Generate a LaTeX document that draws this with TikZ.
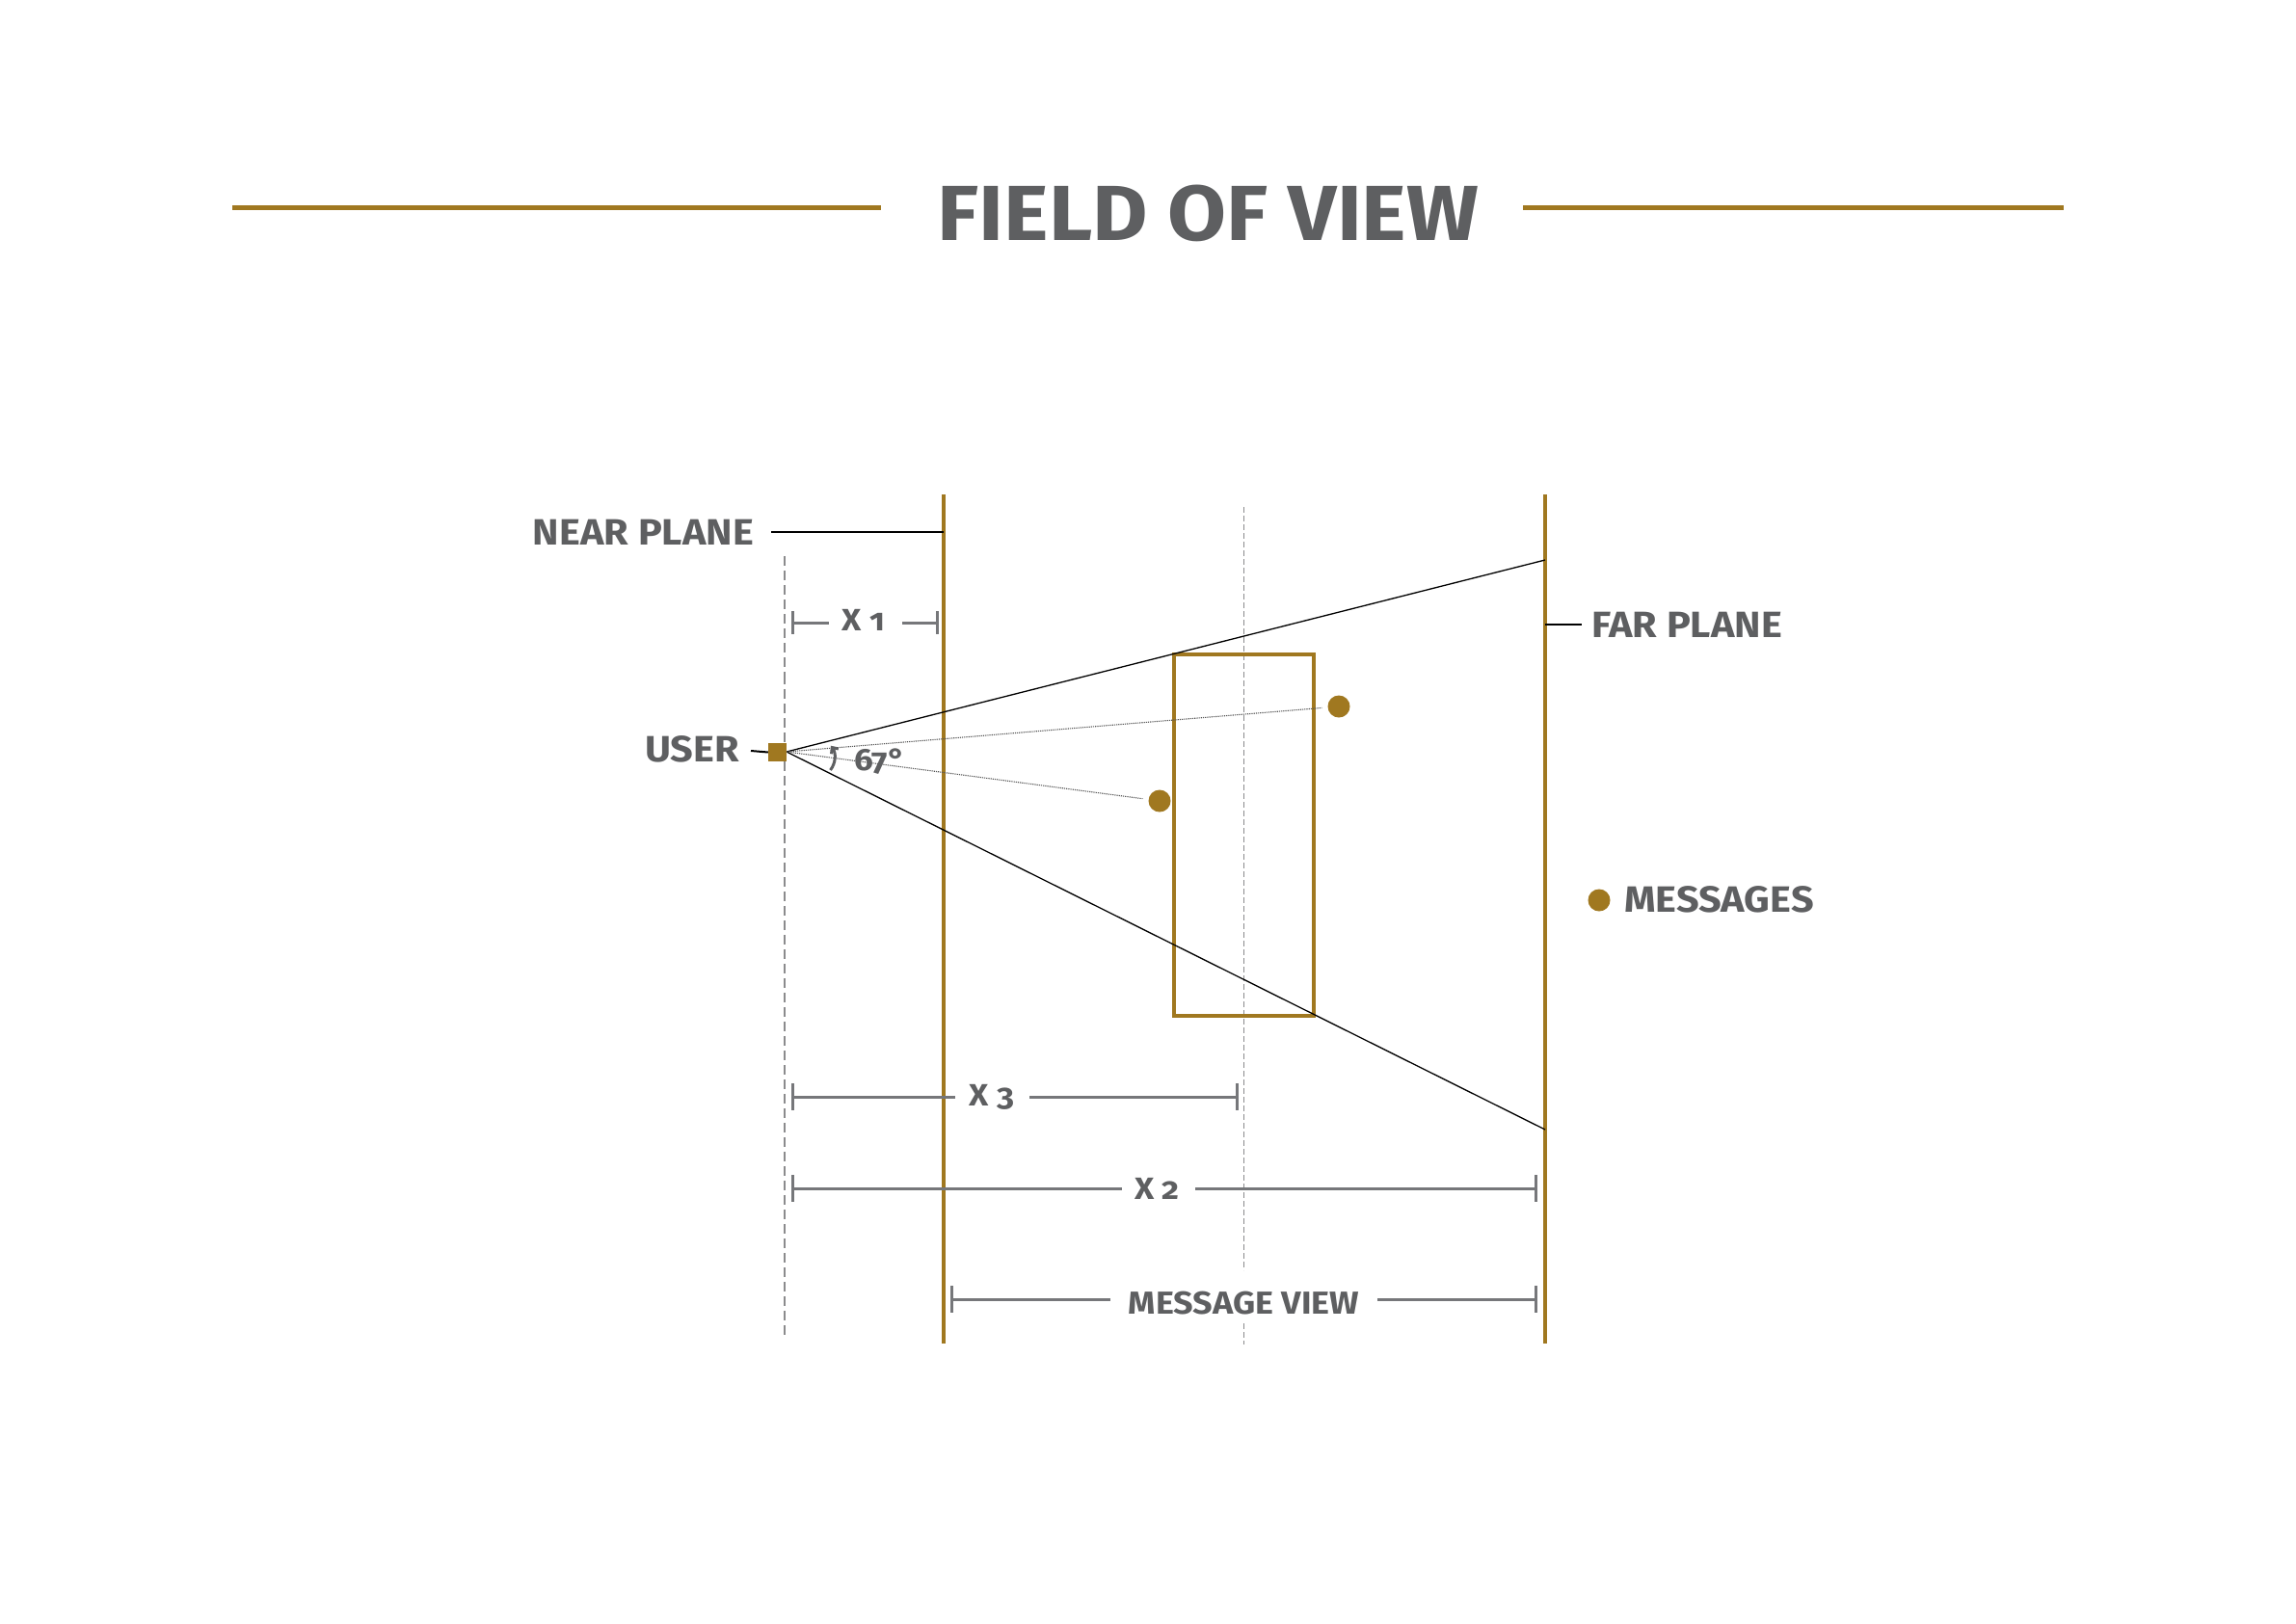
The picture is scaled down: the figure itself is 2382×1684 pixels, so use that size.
\documentclass[tikz,border=0pt]{standalone}
\usepackage{fontspec}
\setmainfont{Fira Sans}[Numbers=OldStyle, FakeStretch=1.09]
\usetikzlibrary{arrows.meta,calc}
\definecolor{gold}{HTML}{A07820}
\definecolor{txt}{HTML}{5E5F61}
\definecolor{dimc}{HTML}{76777A}
\definecolor{dashc}{HTML}{8B8B8D}
\definecolor{sightc}{HTML}{555555}
\tikzset{
  lbl/.style={text=txt, font=\fontsize{38}{40}\selectfont\bfseries, inner sep=0pt},
  dimlbl/.style={text=txt, font=\fontsize{32}{34}\selectfont\bfseries, inner sep=0pt},
  plane/.style={draw=gold, line width=4pt},
  dimline/.style={draw=dimc, line width=3pt},
  leader/.style={draw=black, line width=2pt},
  ray/.style={draw=black, line width=1.3pt},
  sight/.style={draw=sightc, line width=1.1pt, dash pattern=on 1.2pt off 1pt},
  pt/.style={circle, fill=gold, inner sep=0pt, minimum size=23pt},
}
\begin{document}
\begin{tikzpicture}[x=1pt,y=-1pt]
\useasboundingbox (0,0) rectangle (2382,1684);
% title
\node[anchor=base, text=txt, font=\fontsize{81}{84}\selectfont\bfseries, inner sep=0pt] (title) at (1253.5,249) {FIELD OF VIEW};
\coordinate (tl1) at (241,215); \coordinate (tl2) at (914,215);
\coordinate (tr1) at (1580,215); \coordinate (tr2) at (2141,215);
\draw[gold, line width=5pt] (tl1) -- (tl2);
\draw[gold, line width=5pt] (tr1) -- (tr2);
% planes
\coordinate (nearT) at (979,513); \coordinate (nearB) at (979,1394);
\coordinate (farT) at (1603,513); \coordinate (farB) at (1603,1394);
\draw[plane] (nearT) -- (nearB);
\draw[plane] (farT) -- (farB);
% user sight line (dashed)
\coordinate (uT) at (814,577); \coordinate (uM1) at (814,700); \coordinate (uM2) at (814,1000); \coordinate (uB) at (814,1389);
\draw[dashc, line width=1.6pt, dash pattern=on 10pt off 5pt] (uT) -- (uM1);
\draw[dashc, line width=2.6pt, dash pattern=on 10pt off 5pt] (uM1) -- (uM2);
\draw[dashc, line width=1.6pt, dash pattern=on 10pt off 5pt] (uM2) -- (uB);
% message centre line
\coordinate (mT) at (1290,526); \coordinate (mM) at (1290,1318);
\coordinate (mM2) at (1290,1373); \coordinate (mB) at (1290,1395);
\draw[dashc, line width=1pt, dash pattern=on 6pt off 3pt] (mT) -- (mM);
\draw[dashc, line width=1pt, dash pattern=on 6pt off 3pt] (mM2) -- (mB);
% message view box
\node[draw=gold, line width=4pt, minimum width=145pt, minimum height=375pt, inner sep=0pt] (box) at (1290.5,866.5) {};
% frustum
\coordinate (apex) at (816,780);
\coordinate (fu) at (1603,581); \coordinate (fl) at (1603,1172);
\draw[ray] (apex) -- (fu);
\draw[ray] (apex) -- (fl);
% messages
\node[pt] (m1) at (1389,733) {};
\node[pt] (m2) at (1203,831) {};
\draw[sight, shorten >=6pt] (apex) -- (m1);
\draw[sight, shorten >=6pt] (apex) -- (m2);
% user
\node[fill=gold, minimum size=19pt, inner sep=0pt] (user) at (806.5,780.5) {};
\node[lbl, anchor=base east] (userl) at (767,790) {USER};
\coordinate (ul1) at (779,779);
\draw[leader] (ul1) -- (user.west);
% angle
\coordinate (arcS) at (861.5,799);
\draw[txt, line width=3pt, -{Straight Barb[length=5pt,width=9pt]}] (arcS) arc[start angle=38, end angle=-36, radius=21];
\node[anchor=base west, text=txt, font=\fontsize{32}{34}\selectfont\bfseries, inner sep=0pt] (ang) at (886,799) {67°};
% labels
\node[lbl, anchor=base east] (nearl) at (782,565) {NEAR PLANE};
\coordinate (nl1) at (800,552); \coordinate (nl2) at (979,552);
\draw[leader] (nl1) -- (nl2);
\node[lbl, anchor=base west] (farl) at (1651,661) {FAR PLANE};
\coordinate (fl1) at (1603,648); \coordinate (fl2) at (1641,648);
\draw[leader] (fl1) -- (fl2);
\node[pt] (leg) at (1659,934) {};
\node[lbl, anchor=base west] (legl) at (1685,946) {MESSAGES};
% X1
\node[dimlbl, anchor=base] (x1) at (896,654) {X 1};
\coordinate (x1a) at (822,646); \coordinate (x1b) at (860,646);
\coordinate (x1c) at (936,646); \coordinate (x1d) at (972,646);
\draw[dimline] (x1a) -- (x1b); \draw[dimline] (x1c) -- (x1d);
\draw[dimline] ([yshift=12pt]x1a) -- ([yshift=-12pt]x1a);
\draw[dimline] ([yshift=12pt]x1d) -- ([yshift=-12pt]x1d);
% X3
\node[dimlbl, anchor=base] (x3) at (1029,1147) {X 3};
\coordinate (x3a) at (822,1138); \coordinate (x3b) at (991,1138);
\coordinate (x3c) at (1068,1138); \coordinate (x3d) at (1283,1138);
\draw[dimline] (x3a) -- (x3b); \draw[dimline] (x3c) -- (x3d);
\draw[dimline] ([yshift=14pt]x3a) -- ([yshift=-14pt]x3a);
\draw[dimline] ([yshift=14pt]x3d) -- ([yshift=-14pt]x3d);
% X2
\node[dimlbl, anchor=base] (x2) at (1200.5,1244) {X 2};
\coordinate (x2a) at (822,1233); \coordinate (x2b) at (1164,1233);
\coordinate (x2c) at (1240,1233); \coordinate (x2d) at (1593,1233);
\draw[dimline] (x2a) -- (x2b); \draw[dimline] (x2c) -- (x2d);
\draw[dimline] ([yshift=14pt]x2a) -- ([yshift=-14pt]x2a);
\draw[dimline] ([yshift=14pt]x2d) -- ([yshift=-14pt]x2d);
% message view
\node[dimlbl, anchor=base, font=\fontsize{33}{35}\selectfont\bfseries] (mv) at (1290.5,1363) {MESSAGE VIEW};
\coordinate (mva) at (987,1348); \coordinate (mvb) at (1152,1348);
\coordinate (mvc) at (1429,1348); \coordinate (mvd) at (1593,1348);
\draw[dimline] (mva) -- (mvb); \draw[dimline] (mvc) -- (mvd);
\draw[dimline] ([yshift=14pt]mva) -- ([yshift=-14pt]mva);
\draw[dimline] ([yshift=14pt]mvd) -- ([yshift=-14pt]mvd);
\end{tikzpicture}
\end{document}
